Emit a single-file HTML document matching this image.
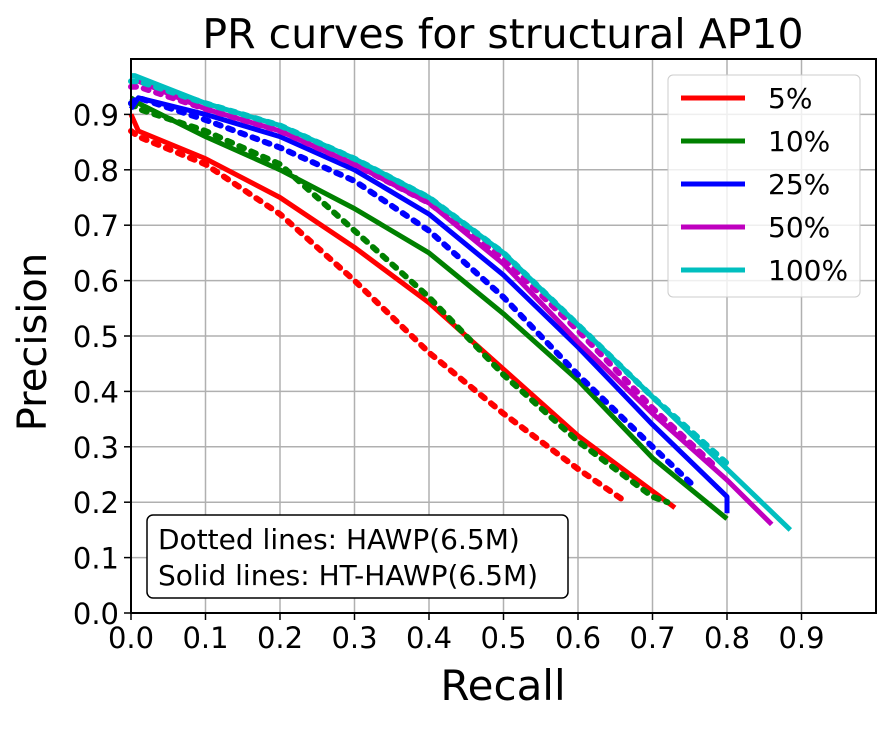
<!DOCTYPE html>
<html><head><meta charset="utf-8"><style>
body{margin:0;background:#fff;}
svg text{font-family:"DejaVu Sans","Liberation Sans",sans-serif;fill:#000;}
</style></head><body>
<svg id="chart" width="891" height="725" xmlns="http://www.w3.org/2000/svg">
<text x="503" y="48" font-size="41" text-anchor="middle">PR curves for structural AP10</text>
<g id="grid"></g><g id="series"></g><g id="ticks"></g>
<rect x="131" y="59" width="745" height="554" fill="none" stroke="#000" stroke-width="2"/>
<text x="503" y="700" font-size="42" text-anchor="middle">Recall</text>
<text transform="translate(46,342) rotate(-90)" font-size="40" text-anchor="middle">Precision</text>
<g>
<rect x="668" y="75" width="192" height="222" rx="5" fill="#fff" fill-opacity="0.8" stroke="#ccc"/>
<g id="legend-items"></g>
</g>
<g>
<rect x="147" y="515" width="421" height="83" rx="6" fill="#fff" stroke="#000" stroke-width="1.5"/>
<text x="158" y="549" font-size="28">Dotted lines: HAWP(6.5M)</text>
<text x="158" y="585" font-size="28">Solid lines: HT-HAWP(6.5M)</text>
</g>
</svg>
<script>
const labels=["5%","10%","25%","50%","100%"];
const colors=["#ff0000","#008000","#0000ff","#bf00bf","#00bfbf"];
const xTicks=[0,0.1,0.2,0.3,0.4,0.5,0.6,0.7,0.8,0.9];
const yTicks=[0,0.1,0.2,0.3,0.4,0.5,0.6,0.7,0.8,0.9];
const solidRecall=[
[0,0.01,0.1,0.2,0.3,0.4,0.5,0.6,0.7,0.73],
[0,0.01,0.1,0.2,0.3,0.4,0.5,0.6,0.7,0.8],
[0,0.01,0.1,0.2,0.3,0.4,0.5,0.6,0.7,0.8,0.8],
[0,0.01,0.1,0.2,0.3,0.4,0.5,0.6,0.7,0.8,0.86],
[0,0.005,0.1,0.2,0.3,0.4,0.5,0.6,0.7,0.8,0.885]];
const solidPrecision=[
[0.90,0.87,0.82,0.75,0.66,0.56,0.44,0.32,0.22,0.19],
[0.93,0.92,0.86,0.80,0.73,0.65,0.54,0.42,0.28,0.17],
[0.91,0.93,0.90,0.86,0.80,0.72,0.61,0.48,0.34,0.21,0.18],
[0.96,0.96,0.91,0.87,0.81,0.74,0.63,0.49,0.36,0.24,0.16],
[0.97,0.97,0.92,0.88,0.82,0.75,0.65,0.52,0.39,0.26,0.15]];
const dotRecall=[
[0,0.01,0.1,0.2,0.3,0.4,0.5,0.6,0.665],
[0,0.01,0.1,0.2,0.3,0.4,0.5,0.6,0.7,0.72],
[0,0.01,0.1,0.2,0.3,0.4,0.5,0.6,0.7,0.755],
[0,0.01,0.1,0.2,0.3,0.4,0.5,0.6,0.7,0.78],
[0,0.01,0.1,0.2,0.3,0.4,0.5,0.6,0.7,0.8]];
const dotPrecision=[
[0.87,0.86,0.81,0.72,0.60,0.47,0.36,0.26,0.20],
[0.92,0.91,0.87,0.81,0.69,0.57,0.43,0.31,0.21,0.20],
[0.92,0.93,0.89,0.84,0.78,0.69,0.57,0.43,0.30,0.23],
[0.95,0.95,0.91,0.87,0.81,0.74,0.64,0.51,0.37,0.27],
[0.96,0.96,0.92,0.88,0.82,0.75,0.65,0.52,0.39,0.27]];
const NS="http://www.w3.org/2000/svg";
const X0=131,X1=876,Y0=613,Y1=59;
const sx=v=>X0+v*(X1-X0), sy=v=>Y0-v*(Y0-Y1);
function mk(t,a,p){const e=document.createElementNS(NS,t);for(const k in a)e.setAttribute(k,a[k]);p.appendChild(e);return e;}
const grid=document.getElementById('grid'),ticks=document.getElementById('ticks'),ser=document.getElementById('series');
xTicks.forEach(v=>{
 const l=mk('line',{x1:sx(v),x2:sx(v),y1:Y1,y2:Y0,stroke:'#b0b0b0','stroke-width':1.5},grid);
 
 
 mk('line',{x1:sx(v),x2:sx(v),y1:Y0,y2:Y0+7,stroke:'#000','stroke-width':1.5},ticks);
 const t=mk('text',{x:sx(v),y:Y0+35,'font-size':29,'text-anchor':'middle'},ticks);
 t.textContent=v.toFixed(1);
 
 
});
yTicks.forEach(v=>{
 const l=mk('line',{x1:X0,x2:X1,y1:sy(v),y2:sy(v),stroke:'#b0b0b0','stroke-width':1.5},grid);
 
 
 mk('line',{x1:X0-7,x2:X0,y1:sy(v),y2:sy(v),stroke:'#000','stroke-width':1.5},ticks);
 const t=mk('text',{x:X0-12,y:sy(v)+11,'font-size':29,'text-anchor':'end'},ticks);
 t.textContent=v.toFixed(1);
 
 
});
function pts(rx,py){return rx.map((r,i)=>sx(r).toFixed(1)+','+sy(py[i]).toFixed(1)).join(' ');}
colors.forEach((c,i)=>{
 const d=mk('polyline',{points:pts(dotRecall[i],dotPrecision[i]),fill:'none',stroke:c,'stroke-width':6,'stroke-dasharray':'5 8','stroke-linecap':'round'},ser);
 
 
 const s=mk('polyline',{points:pts(solidRecall[i],solidPrecision[i]),fill:'none',stroke:c,'stroke-width':5,'stroke-linejoin':'round'},ser);
 
 
});
const lg=document.getElementById('legend-items');
labels.forEach((lb,i)=>{
 const y=98+i*43;
 const g=mk('g',{},lg);
 
 
 mk('line',{x1:681,x2:745,y1:y,y2:y,stroke:colors[i],'stroke-width':5},g);
 const t=mk('text',{x:768,y:y+10,'font-size':28},g);
 t.textContent=lb;
});
</script>
</body></html>
